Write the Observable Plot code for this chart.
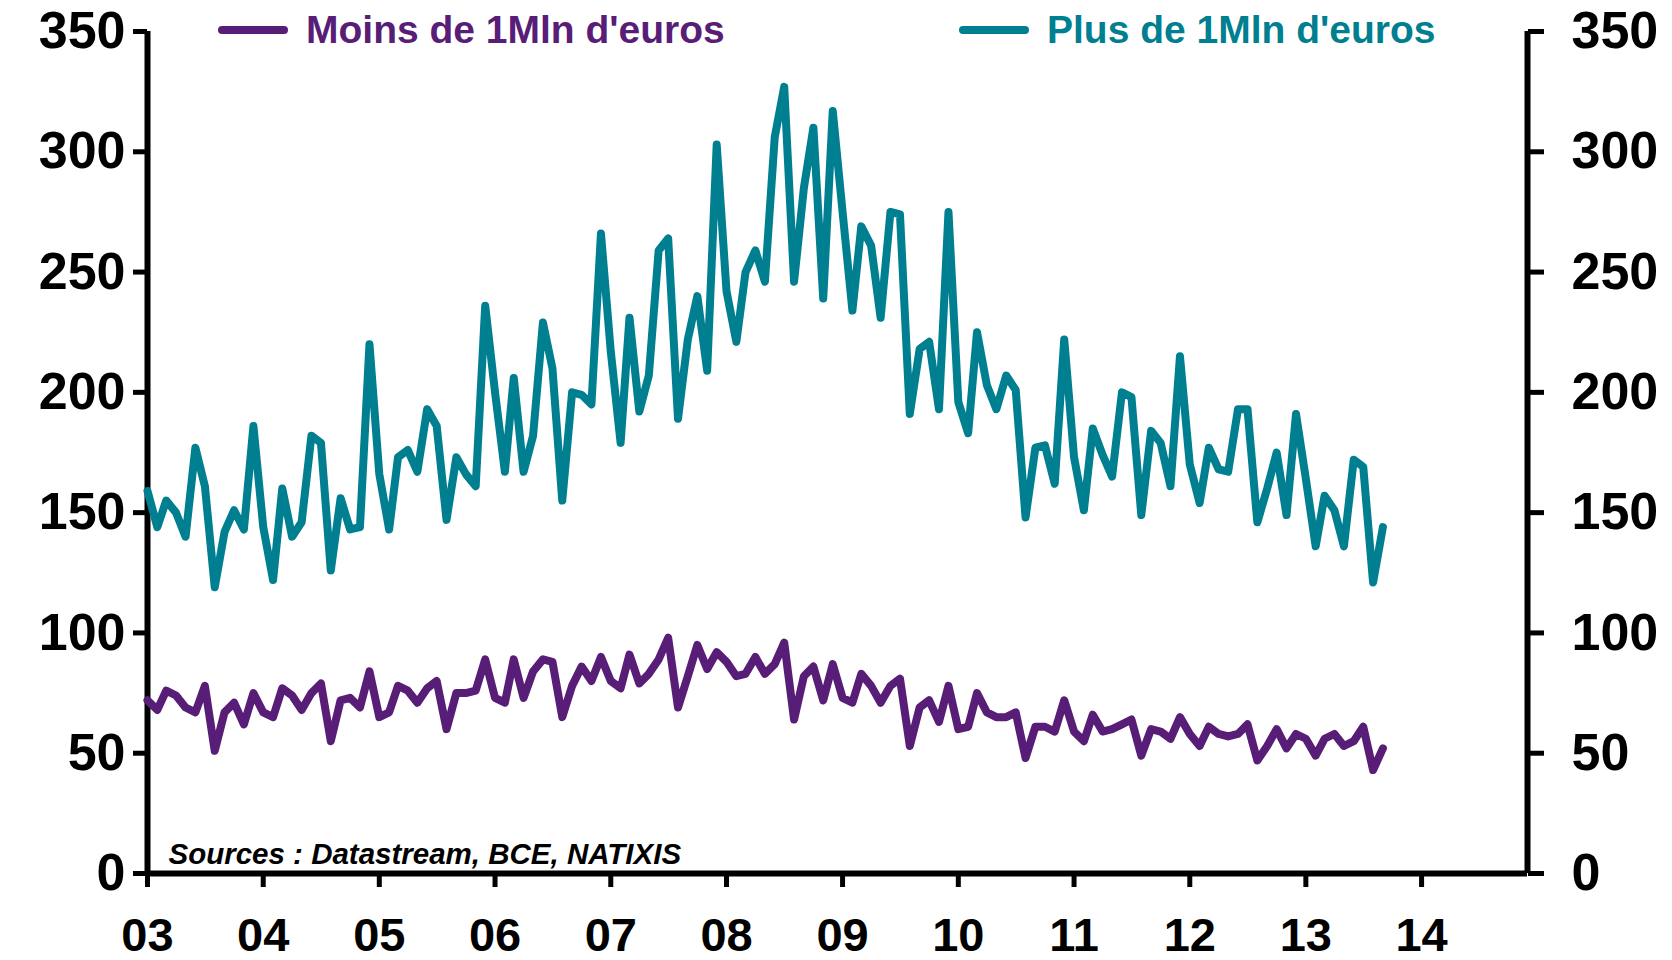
<!DOCTYPE html>
<html>
<head>
<meta charset="utf-8">
<script src="https://cdn.jsdelivr.net/npm/d3@7"></script>
<script src="https://cdn.jsdelivr.net/npm/@observablehq/plot@0.6"></script>
<style>
  html, body { margin: 0; padding: 0; background: #fff; overflow: hidden; }
  #wrap { position: relative; width: 1672px; height: 960px; }
  .leg { position: absolute; top: 0; height: 60px; display: flex; align-items: center;
         font-family: "Liberation Sans", Arial, sans-serif; font-weight: bold; font-size: 39px; }
  .leg svg { margin-right: 18px; }
</style>
</head>
<body>
<div id="wrap"></div>
<script>
// Monthly series, first month = January 2003
const startMonth = "2003-01";
const moinsLabel = "Moins de 1Mln d'euros";
const plusLabel = "Plus de 1Mln d'euros";
const sourceText = "Sources : Datastream, BCE, NATIXIS";

const moins = [
  72, 68, 76, 74, 69, 67, 78, 51, 67, 71, 62, 75,
  67, 65, 77, 74, 68, 75, 79, 55, 72, 73, 69, 84,
  65, 67, 78, 76, 71, 77, 80, 60, 75, 75, 76, 89,
  73, 71, 89, 73, 84, 89, 88, 65, 78, 86, 80, 90,
  80, 77, 91, 79, 83, 89, 98, 69, 82, 95, 85, 92,
  88, 82, 83, 90, 83, 87, 96, 64, 82, 86, 72, 87,
  73, 71, 83, 78, 71, 78, 81, 53, 69, 72, 63, 78,
  60, 61, 75, 67, 65, 65, 67, 48, 61, 61, 59, 72,
  59, 55, 66, 59, 60, 62, 64, 49, 60, 59, 56, 65,
  58, 53, 61, 58, 57, 58, 62, 47, 53, 60, 52, 58,
  56, 49, 56, 58, 53, 55, 61, 43, 52
];
const plus = [
  159, 144, 155, 150, 140, 177, 161, 119, 142, 151, 143, 186,
  144, 122, 160, 140, 146, 182, 179, 126, 156, 143, 144, 220,
  166, 143, 173, 176, 167, 193, 186, 147, 173, 166, 161, 236,
  200, 167, 206, 167, 182, 229, 210, 155, 200, 199, 195, 266,
  217, 179, 231, 192, 207, 259, 264, 189, 222, 240, 209, 303,
  242, 221, 250, 259, 246, 306, 327, 246, 285, 310, 239, 317,
  275, 234, 269, 261, 231, 275, 274, 191, 218, 221, 193, 275,
  196, 183, 225, 203, 193, 207, 201, 148, 177, 178, 162, 222,
  173, 151, 185, 174, 165, 200, 198, 149, 184, 179, 161, 215,
  170, 154, 177, 168, 167, 193, 193, 146, 160, 175, 149, 191,
  164, 136, 157, 151, 136, 172, 169, 121, 144
];
const yTicks = [0, 50, 100, 150, 200, 250, 300, 350];
const xTickYears = [2003, 2004, 2005, 2006, 2007, 2008, 2009, 2010, 2011, 2012, 2013, 2014];

const purple = "#581d76";
const teal = "#007f91";

const start = d3.utcParse("%Y-%m")(startMonth);
const rows = moins.map((m, i) => ({date: d3.utcMonth.offset(start, i), moins: m, plus: plus[i]}));
const xDomain = [start, new Date(Date.UTC(2014, 11, 1))];
const xTicks = xTickYears.map(y => new Date(Date.UTC(y, 0, 1)));

const chart = Plot.plot({
  width: 1672,
  height: 960,
  marginLeft: 147,
  marginRight: 145,
  marginTop: 31,
  marginBottom: 87,
  style: {fontFamily: "'Liberation Sans', Arial, sans-serif", fontWeight: "bold", background: "white", color: "black"},
  x: {type: "utc", domain: xDomain},
  y: {domain: [0, 350]},
  marks: [
    Plot.axisY(yTicks, {anchor: "left", tickSize: 14, tickPadding: 8, fontSize: 52, strokeWidth: 5, label: null, tickFormat: d => d}),
    Plot.axisY(yTicks, {anchor: "right", tickSize: 16, tickPadding: 28, fontSize: 52, strokeWidth: 5, label: null, tickFormat: d => d}),
    Plot.axisX(xTicks, {tickSize: 14, tickPadding: 30, fontSize: 47, strokeWidth: 5, label: null, tickFormat: d3.utcFormat("%y")}),
    Plot.ruleY([0], {stroke: "black", strokeWidth: 6}),
    Plot.ruleX([xDomain[0], xDomain[1]], {y1: 0, y2: 350, stroke: "black", strokeWidth: 6}),
    Plot.line(rows, {x: "date", y: "moins", stroke: purple, strokeWidth: 8, strokeLinejoin: "round", strokeLinecap: "round"}),
    Plot.line(rows, {x: "date", y: "plus", stroke: teal, strokeWidth: 8, strokeLinejoin: "round", strokeLinecap: "round"}),
    Plot.text([sourceText], {frameAnchor: "bottom-left", dx: 21, dy: -10, fontSize: 29.5, fontStyle: "italic", fontWeight: "bold", fill: "black", textAnchor: "start", lineAnchor: "bottom"})
  ]
});

const wrap = document.getElementById("wrap");
wrap.appendChild(chart);

function legendItem(left, color, label) {
  const div = document.createElement("div");
  div.className = "leg";
  div.style.left = left + "px";
  div.style.color = color;
  div.innerHTML = `<svg width="70" height="12"><line x1="4" y1="6" x2="66" y2="6" stroke="${color}" stroke-width="8" stroke-linecap="round"/></svg><span>${label}</span>`;
  wrap.appendChild(div);
}
legendItem(218, purple, moinsLabel);
legendItem(959, teal, plusLabel);
</script>
</body>
</html>
